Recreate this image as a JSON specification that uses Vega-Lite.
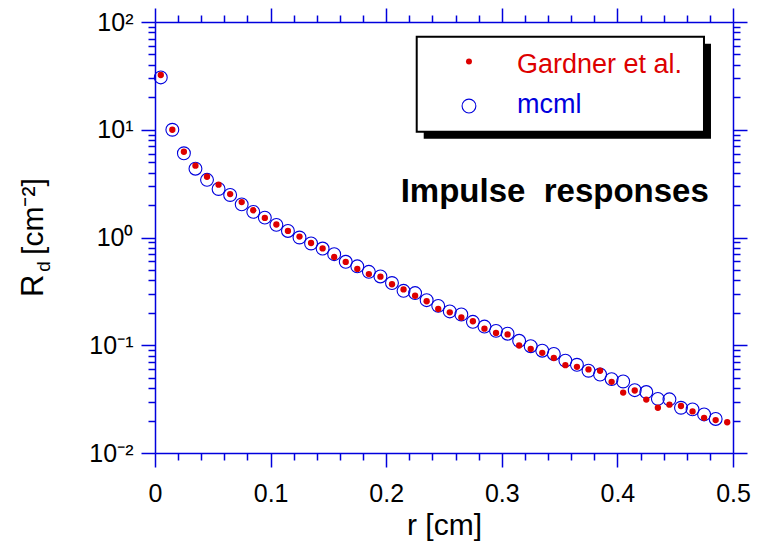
{
  "$schema": "https://vega.github.io/schema/vega-lite/v6.json",
  "width": 578,
  "height": 431,
  "autosize": {"type": "none"},
  "padding": {"left": 155, "top": 22, "right": 25, "bottom": 91},
  "background": "white",
  "config": {"view": {"stroke": null}, "font": "Liberation Sans", "axis": {"grid": false}},
  "datasets": {
    "gardner": [
      {"r": 0.005, "Rd": 32.2}, {"r": 0.015, "Rd": 10.0}, {"r": 0.025, "Rd": 6.25}, {"r": 0.035, "Rd": 4.64},
      {"r": 0.045, "Rd": 3.66}, {"r": 0.055, "Rd": 3.09}, {"r": 0.065, "Rd": 2.53}, {"r": 0.075, "Rd": 2.13},
      {"r": 0.085, "Rd": 1.79}, {"r": 0.095, "Rd": 1.52}, {"r": 0.105, "Rd": 1.32}, {"r": 0.115, "Rd": 1.15},
      {"r": 0.125, "Rd": 1.02}, {"r": 0.135, "Rd": 0.889}, {"r": 0.145, "Rd": 0.792}, {"r": 0.155, "Rd": 0.659},
      {"r": 0.165, "Rd": 0.593}, {"r": 0.175, "Rd": 0.511}, {"r": 0.185, "Rd": 0.458}, {"r": 0.195, "Rd": 0.433},
      {"r": 0.205, "Rd": 0.368}, {"r": 0.215, "Rd": 0.33}, {"r": 0.225, "Rd": 0.288}, {"r": 0.235, "Rd": 0.256},
      {"r": 0.245, "Rd": 0.217}, {"r": 0.255, "Rd": 0.202}, {"r": 0.265, "Rd": 0.181}, {"r": 0.275, "Rd": 0.167},
      {"r": 0.285, "Rd": 0.1425}, {"r": 0.295, "Rd": 0.13}, {"r": 0.305, "Rd": 0.126}, {"r": 0.315, "Rd": 0.0995},
      {"r": 0.325, "Rd": 0.0923}, {"r": 0.335, "Rd": 0.085}, {"r": 0.345, "Rd": 0.0762}, {"r": 0.355, "Rd": 0.0653},
      {"r": 0.365, "Rd": 0.063}, {"r": 0.375, "Rd": 0.0597}, {"r": 0.385, "Rd": 0.058}, {"r": 0.395, "Rd": 0.0458},
      {"r": 0.405, "Rd": 0.0364}, {"r": 0.415, "Rd": 0.038}, {"r": 0.425, "Rd": 0.0313}, {"r": 0.435, "Rd": 0.0263},
      {"r": 0.445, "Rd": 0.0281}, {"r": 0.455, "Rd": 0.0273}, {"r": 0.465, "Rd": 0.0243}, {"r": 0.475, "Rd": 0.0212},
      {"r": 0.485, "Rd": 0.0202}, {"r": 0.495, "Rd": 0.0193}
    ],
    "mcml": [
      {"r": 0.005, "Rd": 30.6}, {"r": 0.015, "Rd": 10.0}, {"r": 0.025, "Rd": 6.05}, {"r": 0.035, "Rd": 4.35},
      {"r": 0.045, "Rd": 3.43}, {"r": 0.055, "Rd": 2.82}, {"r": 0.065, "Rd": 2.48}, {"r": 0.075, "Rd": 2.03},
      {"r": 0.085, "Rd": 1.73}, {"r": 0.095, "Rd": 1.53}, {"r": 0.105, "Rd": 1.31}, {"r": 0.115, "Rd": 1.15},
      {"r": 0.125, "Rd": 1.0}, {"r": 0.135, "Rd": 0.88}, {"r": 0.145, "Rd": 0.79}, {"r": 0.155, "Rd": 0.7},
      {"r": 0.165, "Rd": 0.595}, {"r": 0.175, "Rd": 0.54}, {"r": 0.185, "Rd": 0.48}, {"r": 0.195, "Rd": 0.435},
      {"r": 0.205, "Rd": 0.378}, {"r": 0.215, "Rd": 0.32}, {"r": 0.225, "Rd": 0.305}, {"r": 0.235, "Rd": 0.262},
      {"r": 0.245, "Rd": 0.232}, {"r": 0.255, "Rd": 0.206}, {"r": 0.265, "Rd": 0.193}, {"r": 0.275, "Rd": 0.165},
      {"r": 0.285, "Rd": 0.149}, {"r": 0.295, "Rd": 0.136}, {"r": 0.305, "Rd": 0.128}, {"r": 0.315, "Rd": 0.11},
      {"r": 0.325, "Rd": 0.098}, {"r": 0.335, "Rd": 0.089}, {"r": 0.345, "Rd": 0.083}, {"r": 0.355, "Rd": 0.072},
      {"r": 0.365, "Rd": 0.0659}, {"r": 0.375, "Rd": 0.058}, {"r": 0.385, "Rd": 0.0535}, {"r": 0.395, "Rd": 0.0485},
      {"r": 0.405, "Rd": 0.0461}, {"r": 0.415, "Rd": 0.0383}, {"r": 0.425, "Rd": 0.0368}, {"r": 0.435, "Rd": 0.0318},
      {"r": 0.445, "Rd": 0.0315}, {"r": 0.455, "Rd": 0.0263}, {"r": 0.465, "Rd": 0.0254}, {"r": 0.475, "Rd": 0.0228},
      {"r": 0.485, "Rd": 0.0207}
    ],
    "one": [{}]
  },
  "resolve": {"scale": {"x": "shared", "y": "shared"}, "axis": {"x": "independent", "y": "independent"}},
  "layer": [
    {
      "data": {"name": "mcml"},
      "mark": {"type": "point", "shape": "circle", "filled": false, "stroke": "#0000dd", "strokeWidth": 1.1, "size": 165, "opacity": 1},
      "encoding": {
        "x": {"field": "r", "type": "quantitative", "scale": {"domain": [0, 0.5], "nice": false, "zero": false},
          "axis": {"orient": "top", "values": [0, 0.1, 0.2, 0.3, 0.4, 0.5], "labels": false, "title": null, "tickSize": 14, "tickWidth": 1.5, "tickColor": "#0000dd", "domainColor": "#0000dd", "domainWidth": 1.5}},
        "y": {"field": "Rd", "type": "quantitative", "scale": {"type": "log", "domain": [0.01, 100], "nice": false},
          "axis": {"orient": "right", "values": [0.01, 0.1, 1, 10, 100], "labels": false, "title": null, "tickSize": 14, "tickWidth": 1.5, "tickColor": "#0000dd", "domainColor": "#0000dd", "domainWidth": 1.5}}
      }
    },
    {
      "data": {"name": "gardner"},
      "mark": {"type": "point", "shape": "circle", "filled": true, "color": "#dd0000", "size": 40, "opacity": 1},
      "encoding": {
        "x": {"field": "r", "type": "quantitative", "scale": {"domain": [0, 0.5], "nice": false, "zero": false},
          "axis": {"orient": "bottom", "values": [0, 0.1, 0.2, 0.3, 0.4, 0.5], "format": ".1~f", "labelFontSize": 25, "labelColor": "black", "labelPadding": 14, "labelOverlap": false, "labelFlush": false, "title": "r [cm]", "titleFontSize": 30, "titleFontWeight": "normal", "titleColor": "black", "titlePadding": 4, "tickSize": 14, "tickWidth": 1.5, "tickColor": "#0000dd", "domainColor": "#0000dd", "domainWidth": 1.5}},
        "y": {"field": "Rd", "type": "quantitative", "scale": {"type": "log", "domain": [0.01, 100], "nice": false},
          "axis": {"orient": "left", "values": [0.01, 0.1, 1, 10, 100], "labelExpr": "round(log(datum.value)/LN10) == 2 ? '10²' : round(log(datum.value)/LN10) == 1 ? '10¹' : round(log(datum.value)/LN10) == 0 ? '10⁰' : round(log(datum.value)/LN10) == -1 ? '10⁻¹' : '10⁻²'", "labelFontSize": 25, "labelColor": "black", "labelPadding": 8, "labelOverlap": false, "labelFlush": false, "title": null, "tickSize": 14, "tickWidth": 1.5, "tickColor": "#0000dd", "domainColor": "#0000dd", "domainWidth": 1.5}}
      }
    },
    {
      "data": {"name": "gardner"},
      "mark": {"type": "point", "opacity": 0},
      "encoding": {
        "x": {"field": "r", "type": "quantitative", "scale": {"domain": [0, 0.5], "nice": false, "zero": false},
          "axis": {"orient": "bottom", "values": [0.02, 0.04, 0.06, 0.08, 0.12, 0.14, 0.16, 0.18, 0.22, 0.24, 0.26, 0.28, 0.32, 0.34, 0.36, 0.38, 0.42, 0.44, 0.46, 0.48], "labels": false, "domain": false, "title": null, "tickSize": 7, "tickWidth": 1.5, "tickColor": "#0000dd"}},
        "y": {"field": "Rd", "type": "quantitative", "scale": {"type": "log", "domain": [0.01, 100], "nice": false},
          "axis": {"orient": "left", "values": [0.02, 0.03, 0.04, 0.05, 0.06, 0.07, 0.08, 0.09, 0.2, 0.3, 0.4, 0.5, 0.6, 0.7, 0.8, 0.9, 2, 3, 4, 5, 6, 7, 8, 9, 20, 30, 40, 50, 60, 70, 80, 90], "labels": false, "domain": false, "title": null, "tickSize": 7, "tickWidth": 1.5, "tickColor": "#0000dd"}}
      }
    },
    {
      "data": {"name": "gardner"},
      "mark": {"type": "point", "opacity": 0},
      "encoding": {
        "x": {"field": "r", "type": "quantitative", "scale": {"domain": [0, 0.5], "nice": false, "zero": false},
          "axis": {"orient": "top", "values": [0.02, 0.04, 0.06, 0.08, 0.12, 0.14, 0.16, 0.18, 0.22, 0.24, 0.26, 0.28, 0.32, 0.34, 0.36, 0.38, 0.42, 0.44, 0.46, 0.48], "labels": false, "domain": false, "title": null, "tickSize": 7, "tickWidth": 1.5, "tickColor": "#0000dd"}},
        "y": {"field": "Rd", "type": "quantitative", "scale": {"type": "log", "domain": [0.01, 100], "nice": false},
          "axis": {"orient": "right", "values": [0.02, 0.03, 0.04, 0.05, 0.06, 0.07, 0.08, 0.09, 0.2, 0.3, 0.4, 0.5, 0.6, 0.7, 0.8, 0.9, 2, 3, 4, 5, 6, 7, 8, 9, 20, 30, 40, 50, 60, 70, 80, 90], "labels": false, "domain": false, "title": null, "tickSize": 7, "tickWidth": 1.5, "tickColor": "#0000dd"}}
      }
    },
    {
      "data": {"name": "one"},
      "mark": {"type": "rect", "fill": "black", "xOffset": 7, "x2Offset": 7, "yOffset": 7, "y2Offset": 7},
      "encoding": {
        "x": {"datum": 0.2264, "type": "quantitative", "scale": {"domain": [0, 0.5], "nice": false, "zero": false}, "axis": null},
        "x2": {"datum": 0.4749},
        "y": {"datum": 73.1, "type": "quantitative", "scale": {"type": "log", "domain": [0.01, 100], "nice": false}, "axis": null},
        "y2": {"datum": 9.59}
      }
    },
    {
      "data": {"name": "one"},
      "mark": {"type": "rect", "fill": "white", "stroke": "black", "strokeWidth": 2},
      "encoding": {
        "x": {"datum": 0.2264, "type": "quantitative", "scale": {"domain": [0, 0.5], "nice": false, "zero": false}, "axis": null},
        "x2": {"datum": 0.4749},
        "y": {"datum": 73.1, "type": "quantitative", "scale": {"type": "log", "domain": [0.01, 100], "nice": false}, "axis": null},
        "y2": {"datum": 9.59}
      }
    },
    {
      "data": {"name": "one"},
      "mark": {"type": "point", "shape": "circle", "filled": true, "color": "#dd0000", "size": 36, "opacity": 1},
      "encoding": {
        "x": {"datum": 0.2716, "type": "quantitative", "scale": {"domain": [0, 0.5], "nice": false, "zero": false}, "axis": null},
        "y": {"datum": 42.9, "type": "quantitative", "scale": {"type": "log", "domain": [0.01, 100], "nice": false}, "axis": null}
      }
    },
    {
      "data": {"name": "one"},
      "mark": {"type": "point", "shape": "circle", "filled": false, "stroke": "#0000dd", "strokeWidth": 1.1, "size": 190, "opacity": 1},
      "encoding": {
        "x": {"datum": 0.2716, "type": "quantitative", "scale": {"domain": [0, 0.5], "nice": false, "zero": false}, "axis": null},
        "y": {"datum": 16.6, "type": "quantitative", "scale": {"type": "log", "domain": [0.01, 100], "nice": false}, "axis": null}
      }
    },
    {
      "data": {"name": "one"},
      "mark": {"type": "text", "text": "Gardner et al.", "color": "#dd0000", "fontSize": 27, "align": "left", "baseline": "alphabetic", "font": "Liberation Sans"},
      "encoding": {
        "x": {"datum": 0.3131, "type": "quantitative", "scale": {"domain": [0, 0.5], "nice": false, "zero": false}, "axis": null},
        "y": {"datum": 33.4, "type": "quantitative", "scale": {"type": "log", "domain": [0.01, 100], "nice": false}, "axis": null}
      }
    },
    {
      "data": {"name": "one"},
      "mark": {"type": "text", "text": "mcml", "color": "#0000dd", "fontSize": 27, "align": "left", "baseline": "alphabetic", "font": "Liberation Sans"},
      "encoding": {
        "x": {"datum": 0.3131, "type": "quantitative", "scale": {"domain": [0, 0.5], "nice": false, "zero": false}, "axis": null},
        "y": {"datum": 14.2, "type": "quantitative", "scale": {"type": "log", "domain": [0.01, 100], "nice": false}, "axis": null}
      }
    },
    {
      "data": {"name": "one"},
      "mark": {"type": "text", "text": "Impulse\u00a0 responses", "color": "black", "fontSize": 33, "fontWeight": "bold", "align": "left", "baseline": "alphabetic", "font": "Liberation Sans"},
      "encoding": {
        "x": {"datum": 0.2125, "type": "quantitative", "scale": {"domain": [0, 0.5], "nice": false, "zero": false}, "axis": null},
        "y": {"datum": 2.15, "type": "quantitative", "scale": {"type": "log", "domain": [0.01, 100], "nice": false}, "axis": null}
      }
    },
    {
      "data": {"name": "one"},
      "mark": {"type": "text", "text": "R", "color": "black", "fontSize": 31, "angle": 270, "align": "left", "baseline": "alphabetic", "font": "Liberation Sans"},
      "encoding": {
        "x": {"datum": -0.0965, "type": "quantitative", "scale": {"domain": [0, 0.5], "nice": false, "zero": false}, "axis": null},
        "y": {"datum": 0.2805, "type": "quantitative", "scale": {"type": "log", "domain": [0.01, 100], "nice": false}, "axis": null}
      }
    },
    {
      "data": {"name": "one"},
      "mark": {"type": "text", "text": "d", "color": "black", "fontSize": 19, "angle": 270, "align": "left", "baseline": "alphabetic", "font": "Liberation Sans"},
      "encoding": {
        "x": {"datum": -0.0905, "type": "quantitative", "scale": {"domain": [0, 0.5], "nice": false, "zero": false}, "axis": null},
        "y": {"datum": 0.48, "type": "quantitative", "scale": {"type": "log", "domain": [0.01, 100], "nice": false}, "axis": null}
      }
    },
    {
      "data": {"name": "one"},
      "mark": {"type": "text", "text": "[cm⁻²]", "color": "black", "fontSize": 30, "angle": 270, "align": "left", "baseline": "alphabetic", "font": "Liberation Sans"},
      "encoding": {
        "x": {"datum": -0.0965, "type": "quantitative", "scale": {"domain": [0, 0.5], "nice": false, "zero": false}, "axis": null},
        "y": {"datum": 0.689, "type": "quantitative", "scale": {"type": "log", "domain": [0.01, 100], "nice": false}, "axis": null}
      }
    }
  ]
}
